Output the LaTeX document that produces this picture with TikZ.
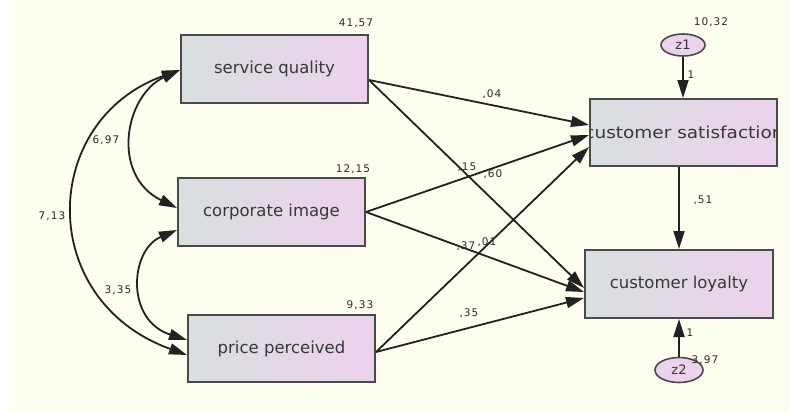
\documentclass[tikz,border=0pt]{standalone}
\usepackage{fontspec}
\setmainfont{DejaVu Sans}
\usetikzlibrary{arrows.meta,shapes.geometric,calc}
\definecolor{bgcream}{HTML}{FDFDF0}
\definecolor{boxleft}{HTML}{D9DFDF}
\definecolor{boxright}{HTML}{ECD2EC}
\definecolor{edgegray}{HTML}{4A4A4A}
\definecolor{linegray}{HTML}{222222}
\definecolor{numgray}{HTML}{2A2A2A}
\tikzset{
  varbox/.style={draw=edgegray, line width=2pt, left color=boxleft, right color=boxright,
    minimum width=187pt, minimum height=67pt, inner sep=0pt,
    font=\fontsize{16.5}{18}\selectfont, text=black!78},
  errell/.style={ellipse, draw=edgegray, line width=1.6pt, fill=boxright,
    inner sep=0pt, font=\fontsize{13}{15}\selectfont, text=black!80},
  num/.style={font=\fontsize{10.5}{12}\selectfont\addfontfeatures{LetterSpace=10}, text=numgray, inner sep=0pt},
  tipL/.tip={Triangle[length=18pt,width=11pt]},
  path1/.style={draw=linegray, line width=1.8pt, -tipL},
  cov/.style={draw=linegray, line width=1.8pt, tipL-tipL}
}
\begin{document}
\begin{tikzpicture}[x=1pt,y=-1pt]
\useasboundingbox (0,0) rectangle (789,412);
\fill[white] (0,0) rectangle (789,412);
\fill[bgcream] (9,0) rectangle (789,412);

% boxes
\node[varbox] (sq) at (274.5,69) {service quality};
\node[varbox, minimum height=68pt] (ci) at (271.5,212) {corporate image};
\node[varbox] (pp) at (281.5,348.5) {price perceived};
\node[varbox, path picture={\node[font=\fontsize{16.5}{18}\selectfont, text=black!78, xscale=1.12] at ([xshift=0.5pt]path picture bounding box.center) {customer satisfaction};}] (cs) at (683.5,132.5) {};
\node[varbox, minimum width=188pt, minimum height=68pt] (cl) at (679,284) {customer loyalty};

% error terms
\node[errell, minimum width=44pt, minimum height=22pt] (z1) at (683,45) {z1};
\node[errell, minimum width=48pt, minimum height=25pt] (z2) at (679,370) {z2};

% anchor points
\coordinate (sqL) at ([yshift=-1pt]sq.west);
\coordinate (ciLa) at ([yshift=4pt]ci.west);
\coordinate (ciLb) at ([yshift=-18pt]ci.west);
\coordinate (ppLa) at ([yshift=8.5pt]pp.west);
\coordinate (ppLb) at ([yshift=-6.5pt]pp.west);
\coordinate (sqR) at ([yshift=-11pt]sq.east);
\coordinate (ciR) at (ci.east);
\coordinate (ppR) at ([yshift=-3.5pt]pp.east);
\coordinate (csA) at ([yshift=7.5pt]cs.west);
\coordinate (csB) at ([yshift=-2.5pt]cs.west);
\coordinate (csC) at ([yshift=-14.5pt]cs.west);
\coordinate (clA) at ([yshift=-4pt]cl.west);
\coordinate (clB) at ([yshift=-8pt]cl.west);
\coordinate (clC) at ([yshift=-14pt]cl.west);

% covariances
\draw[cov] (sqL) .. controls (125,95) and (110,175) .. (ciLa);
\draw[cov] (ciLb) .. controls (130,250) and (125,320) .. (ppLa);
\draw[cov] (sqL) .. controls (40,120) and (35,300) .. (ppLb);

% regression paths
\draw[path1] (sqR) -- (csA);
\draw[path1] (ciR) -- (csB);
\draw[path1] (ppR) -- (csC);
\draw[path1] (sqR) -- (clA);
\draw[path1] (ciR) -- (clB);
\draw[path1] (ppR) -- (clC);
\draw[path1] (z1.south) -- (z1.south |- cs.north);
\draw[path1] (cs.south -| cl.north) -- (cl.north);
\draw[path1] (z2.north) -- (z2.north |- cl.south);

% labels
\node[num] (l1) at (356,23) {41,57};
\node[num] (l2) at (353,169) {12,15};
\node[num] (l3) at (360,305) {9,33};
\node[num] (l4) at (711,22) {10,32};
\node[num] (l5) at (691,75) {1};
\node[num] (l6) at (703,200) {,51};
\node[num] (l7) at (690,333) {1};
\node[num] (l8) at (705,360) {3,97};
\node[num] (l9) at (492,94) {,04};
\node[num] (l10) at (467,167) {,15};
\node[num] (l11) at (493,174) {,60};
\node[num] (l12) at (466,246) {,37};
\node[num] (l13) at (487,242) {,01};
\node[num] (l14) at (469,313) {,35};
\node[num] (l15) at (106,140) {6,97};
\node[num] (l16) at (52,216) {7,13};
\node[num] (l17) at (118,290) {3,35};
\end{tikzpicture}
\end{document}
